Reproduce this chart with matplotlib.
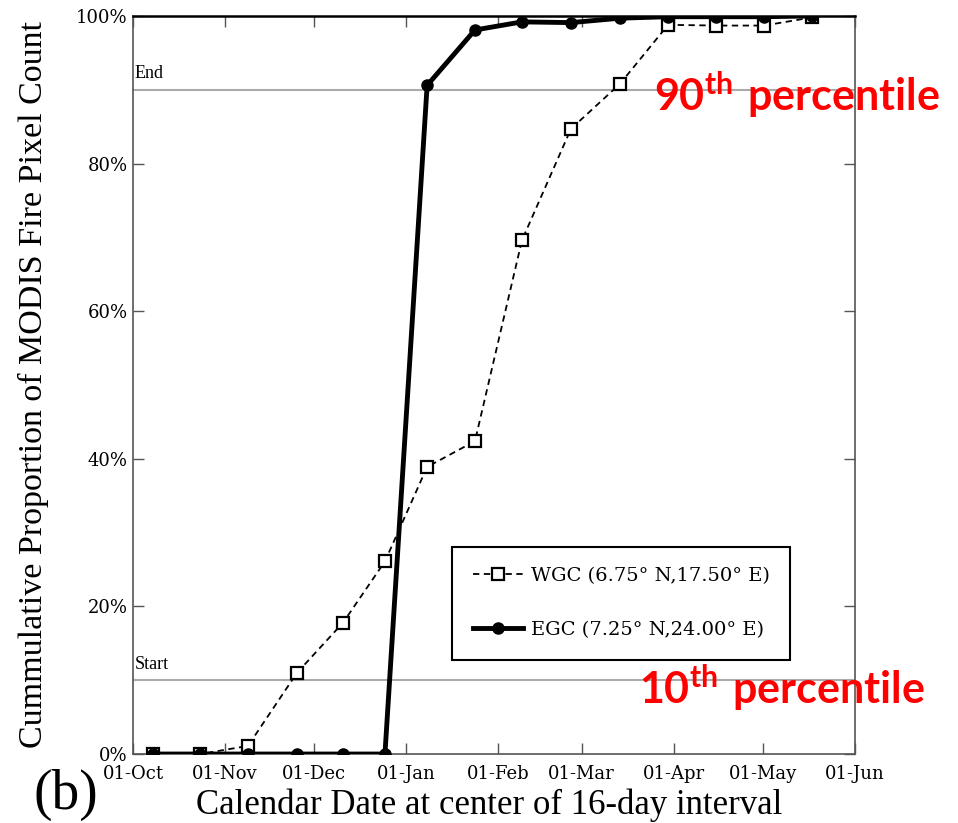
import matplotlib
matplotlib.use("Agg")
import matplotlib.pyplot as plt

# data (x = days after 01-Oct, y = cumulative %)
month_labels = ['01-Oct', '01-Nov', '01-Dec', '01-Jan', '01-Feb',
                '01-Mar', '01-Apr', '01-May', '01-Jun']
month_days = [0, 31, 61, 92, 123, 151, 182, 212, 243]
interval_centre = [6.7, 22.6, 38.7, 55.2, 70.7, 84.8, 99.0, 115.1,
                   130.9, 147.4, 163.9, 180.1, 196.2, 212.4, 228.5]
wgc = [0, 0, 1.1, 11.0, 17.8, 26.1, 38.9, 42.4, 69.6, 84.7, 90.8,
       98.8, 98.7, 98.7, 99.8]
egc = [0, 0, 0, 0, 0, 0, 90.6, 98.1, 99.2, 99.1, 99.7, 99.9, 99.9,
       99.9, 100]
y_ticks = [0, 20, 40, 60, 80, 100]
y_ticklabels = ['0%', '20%', '40%', '60%', '80%', '100%']

plt.rcParams['mathtext.fontset'] = 'custom'
plt.rcParams['mathtext.rm'] = 'Lato'
plt.rcParams['mathtext.bf'] = 'Lato:bold'

serif = 'Liberation Serif'
wide = 'DejaVu Serif'

fig = plt.figure(figsize=(9.58, 8.23), dpi=100)
ax = fig.add_axes([0.1388, 0.0838, 0.7537, 0.8968])

# percentile guide lines
ax.axhline(90, color='#aaaaaa', lw=1.5, zorder=1)
ax.axhline(10, color='#aaaaaa', lw=1.5, zorder=1)
ax.text(0.5, 91.0, 'End', fontsize=13, family=serif, va='bottom', ha='left')
ax.text(0.5, 11.0, 'Start', fontsize=13, family=serif, va='bottom', ha='left')

ax.plot(interval_centre, wgc, color='black', lw=1.3, ls=(0, (3.5, 2.5)),
        marker='s', markersize=9, markerfacecolor='white',
        markeredgecolor='black', markeredgewidth=1.6, zorder=3,
        label='WGC (6.75° N,17.50° E)')
ax.plot(interval_centre, egc, color='black', lw=3.5, marker='o',
        markersize=8, markerfacecolor='black', zorder=4,
        label='EGC (7.25° N,24.00° E)')

ax.set_xlim(0, 243)
ax.set_ylim(0, 100)
ax.set_xticks(month_days)
ax.set_xticklabels(month_labels, family=wide, fontsize=13)
ax.set_yticks(y_ticks)
ax.set_yticklabels(y_ticklabels, family=wide, fontsize=13)
ax.tick_params(direction='in', length=8, width=1, top=True, right=True,
               color='#555555')
ax.tick_params(axis='x', pad=8)
ax.tick_params(axis='y', pad=4)
for s in ax.spines.values():
    s.set_color('#555555')
    s.set_linewidth(1.2)
ax.spines['top'].set_color('black')
ax.spines['top'].set_linewidth(1.8)

ax.set_xlabel('Calendar Date at center of 16-day interval', family=serif,
              fontsize=25)
ax.xaxis.set_label_coords(0.494, -0.047)
ax.set_ylabel('Cummulative Proportion of MODIS Fire Pixel Count',
              family=serif, fontsize=24.5)
ax.yaxis.set_label_coords(-0.116, 0.5)

leg = ax.legend(loc='lower left', bbox_to_anchor=(0.442, 0.128),
                prop={'family': wide, 'size': 14}, fancybox=False,
                edgecolor='black', framealpha=1, handlelength=2.6,
                labelspacing=1.85, borderpad=1.05, handletextpad=0.4,
                borderaxespad=0)
leg.get_frame().set_linewidth(1.5)

# red annotations
fig.text(0.683, 0.885, r'$\mathbf{90^{th}\ percentile}$', color='red',
         fontsize=31, ha='left', va='center')
fig.text(0.667, 0.164, r'$\mathbf{10^{th}\ percentile}$', color='red',
         fontsize=31, ha='left', va='center')

fig.text(0.035, 0.003, '(b)', family=serif, fontsize=40, ha='left',
         va='bottom')

fig.savefig('out.png', dpi=100)
